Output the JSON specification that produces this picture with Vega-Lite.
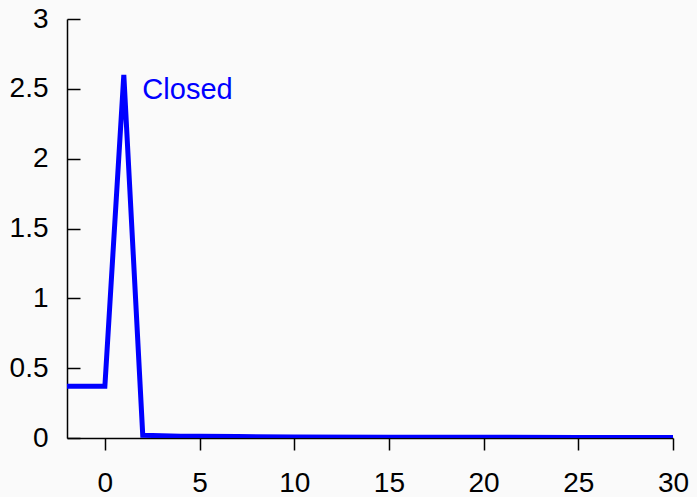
{
  "$schema": "https://vega.github.io/schema/vega-lite/v6.json",
  "width": 606,
  "height": 419,
  "autosize": "none",
  "padding": {"left": 67, "top": 19, "right": 24, "bottom": 59},
  "background": "#fafafa",
  "config": {
    "view": {"stroke": null},
    "font": "Liberation Sans",
    "axis": {"grid": false, "domainColor": "#000000", "tickColor": "#000000", "labelColor": "#000000", "labelFont": "Liberation Sans", "labelFontSize": 28, "domainWidth": 1.5, "tickWidth": 1.5}
  },
  "datasets": {
    "series": [
      {"x": -2, "y": 0.37},
      {"x": 0, "y": 0.37},
      {"x": 1, "y": 2.6},
      {"x": 2, "y": 0.02},
      {"x": 3, "y": 0.016},
      {"x": 4, "y": 0.013},
      {"x": 5, "y": 0.012},
      {"x": 7, "y": 0.01},
      {"x": 10, "y": 0.008},
      {"x": 15, "y": 0.006},
      {"x": 20, "y": 0.005},
      {"x": 25, "y": 0.004},
      {"x": 30, "y": 0.003}
    ],
    "labels": [{"x": 1.98, "y": 2.49, "text": "Closed"}]
  },
  "layer": [
    {
      "data": {"name": "series"},
      "mark": {"type": "line", "color": "#0000ff", "strokeWidth": 5, "clip": true},
      "encoding": {
        "x": {"field": "x", "type": "quantitative", "scale": {"domain": [-2, 30], "nice": false, "zero": false},
          "axis": {"title": null, "values": [0, 5, 10, 15, 20, 25, 30], "format": "~g", "tickSize": 12, "labelPadding": 19, "labelFlush": false}},
        "y": {"field": "y", "type": "quantitative", "scale": {"domain": [0, 3], "nice": false},
          "axis": {"title": null, "values": [0, 0.5, 1, 1.5, 2, 2.5, 3], "format": "~g", "tickSize": -13, "labelPadding": 32, "labelFlush": false}}
      }
    },
    {
      "data": {"name": "labels"},
      "mark": {"type": "text", "color": "#0000ff", "fontSize": 29, "align": "left", "baseline": "middle", "font": "Liberation Sans"},
      "encoding": {
        "x": {"field": "x", "type": "quantitative"},
        "y": {"field": "y", "type": "quantitative"},
        "text": {"field": "text"}
      }
    }
  ]
}
